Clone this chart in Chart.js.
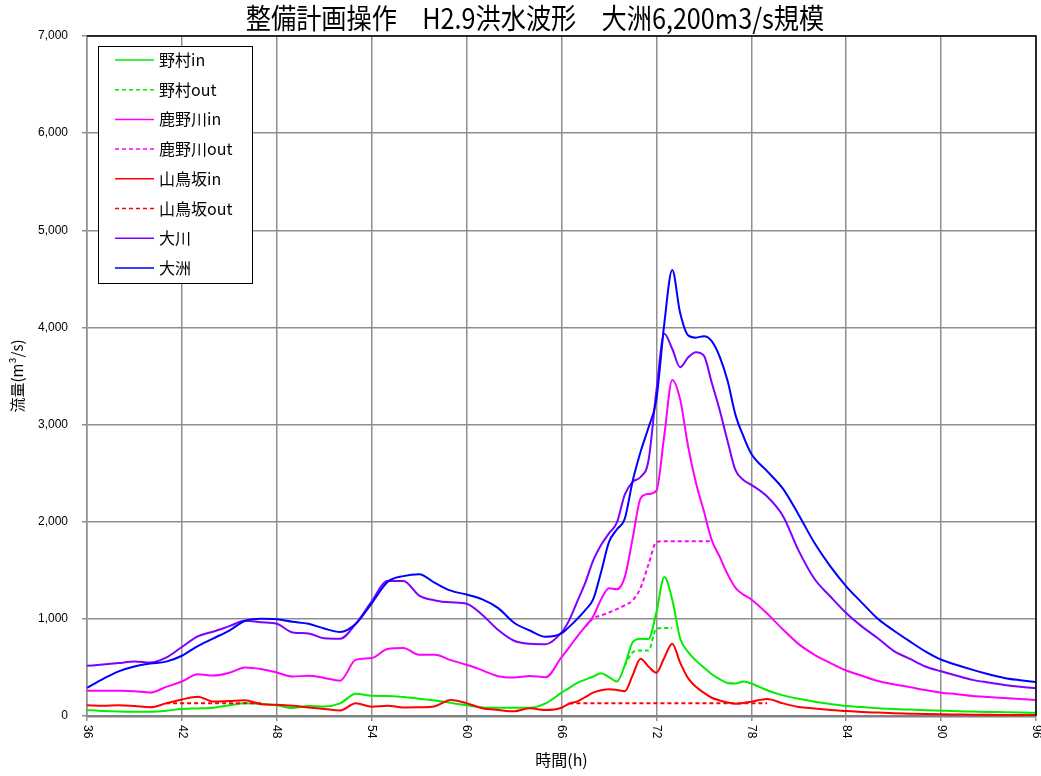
<!DOCTYPE html>
<html lang="ja">
<head>
<meta charset="utf-8">
<title>整備計画操作 H2.9洪水波形 大洲6,200m3/s規模</title>
<script src="https://cdn.jsdelivr.net/npm/chart.js@4.4.1/dist/chart.umd.min.js"></script>
<style>
  html, body { margin: 0; padding: 0; background: #fff; }
  #wrap { width: 1041px; height: 776px; }
</style>
</head>
<body>
<div id="wrap"><canvas id="chart" width="1041" height="776"></canvas></div>
<script>
// 時間軸 (h) - 66〜78hは30分刻み
const hours = [
  36, 37, 38, 39, 40, 41, 42, 43, 44, 45, 46, 47, 48, 49, 50, 51, 52, 53, 54, 55,
  56, 57, 58, 59, 60, 61, 62, 63, 64, 65, 66,
  66.5, 67, 67.5, 68, 68.5, 69, 69.5, 70, 70.5, 71, 71.5, 72, 72.5, 73, 73.5, 74,
  74.5, 75, 75.5, 76, 76.5, 77, 77.5, 78,
  79, 80, 81, 82, 83, 84, 85, 86, 87, 88, 89, 90, 91, 92, 93, 94, 95, 96
];

const nomuraIn = [
  62, 52, 46, 44, 45, 55, 72, 78, 86, 110, 130, 126, 110, 82, 103, 98, 130, 228, 208, 206,
  195, 178, 160, 135, 110, 88, 86, 86, 86, 130, 240,
  290, 340, 375, 405, 440, 400, 354, 520, 760, 795, 792, 1070, 1430, 1200, 800, 660,
  570, 500, 430, 380, 340, 335, 354, 335,
  265, 212, 177, 147, 123, 103, 92, 80, 72, 66, 60, 55, 50, 46, 42, 39, 36, 34
];

const nomuraOut = [
  null, null, null, null, null, null, null, null, null, null, null, null, null, null, null, null, null, null, null, null,
  null, null, null, null, null, null, null, null, null, null, null,
  null, null, null, null, null, null, null, 520, 655, 674, 674, 900, 905, 905, null, null,
  null, null, null, null, null, null, null, null,
  null, null, null, null, null, null, null, null, null, null, null, null, null, null, null, null, null, null
];

const kanogawaIn = [
  261, 261, 260, 255, 241, 300, 355, 430, 416, 445, 500, 484, 447, 406, 415, 392, 364, 580, 596, 690,
  700, 630, 630, 575, 527, 470, 410, 397, 412, 399, 605,
  710, 820, 920, 1025, 1200, 1315, 1305, 1430, 1830, 2240, 2285, 2320, 2890, 3460, 3260, 2780,
  2400, 2110, 1810, 1640, 1460, 1320, 1250, 1200,
  1055, 890, 740, 630, 545, 468, 415, 360, 327, 298, 267, 240, 225, 206, 195, 185, 175, 165
];

const kanogawaOut = [
  null, null, null, null, null, null, null, null, null, null, null, null, null, null, null, null, null, null, null, null,
  null, null, null, null, null, null, null, null, null, null, null,
  null, null, 920, 1005, 1035, 1065, 1100, 1140, 1190, 1320, 1560, 1790, 1800, 1800, 1800, 1800,
  1800, 1800, 1800, null, null, null, null, null,
  null, null, null, null, null, null, null, null, null, null, null, null, null, null, null, null, null, null
];

const sanchosakaIn = [
  110, 105, 110, 102, 90, 130, 170, 198, 148, 155, 162, 122, 115, 105, 88, 73, 57, 130, 96, 106,
  88, 89, 100, 165, 131, 80, 62, 48, 79, 62, 85,
  129, 150, 195, 240, 265, 276, 268, 254, 420, 590, 509, 445, 600, 745, 550, 390,
  300, 240, 188, 160, 140, 126, 135, 148,
  175, 130, 92, 77, 62, 52, 42, 35, 28, 24, 20, 17, 15, 13, 12, 11, 10, 10
];

const sanchosakaOut = [
  null, null, null, null, null, 130, 131, 131, 131, 131, 131, 131, null, null, null, null, null, null, null, null,
  null, null, null, null, null, null, null, null, null, null, null,
  129, 131, 131, 131, 131, 131, 131, 131, 131, 131, 131, 131, 131, 131, 131, 131,
  131, 131, 131, 131, 131, 131, 131, 131,
  131, null, null, null, null, null, null, null, null, null, null, null, null, null, null, null, null, null
];

const ookawa = [
  516, 530, 545, 561, 550, 600, 710, 820, 870, 925, 980, 965, 950, 860, 850, 800, 795, 950, 1180, 1390,
  1390, 1240, 1190, 1170, 1156, 1040, 885, 775, 743, 738, 860,
  990, 1180, 1370, 1600, 1760, 1880, 1990, 2280, 2410, 2460, 2630, 3350, 3935, 3780, 3590, 3690,
  3745, 3710, 3430, 3150, 2830, 2530, 2430, 2380,
  2260, 2060, 1700, 1410, 1230, 1060, 920, 800, 670, 590, 510, 460, 415, 372, 345, 320, 300, 286
];

const oozu = [
  290, 380, 460, 510, 540, 560, 620, 720, 800, 880, 980, 1000, 995, 970, 950, 900, 865, 950, 1160, 1380,
  1440, 1460, 1370, 1290, 1250, 1200, 1110, 960, 880, 815, 850,
  920, 1000, 1090, 1200, 1480, 1790, 1920, 2030, 2420, 2720, 2970, 3260, 4040, 4590, 4150, 3920,
  3895, 3910, 3860, 3700, 3450, 3100, 2880, 2700,
  2520, 2340, 2070, 1780, 1540, 1335, 1165, 1000, 880, 770, 665, 580, 525, 475, 430, 392, 368, 348
];

const yTicks = [0, 1000, 2000, 3000, 4000, 5000, 6000, 7000];
const xTicks = [36, 42, 48, 54, 60, 66, 72, 78, 84, 90, 96];

const series = [
  { label: '野村in', data: nomuraIn, color: '#00ee00', dash: [] },
  { label: '野村out', data: nomuraOut, color: '#00ee00', dash: [4, 3] },
  { label: '鹿野川in', data: kanogawaIn, color: '#ff00ff', dash: [] },
  { label: '鹿野川out', data: kanogawaOut, color: '#ff00ff', dash: [4, 3] },
  { label: '山鳥坂in', data: sanchosakaIn, color: '#ff0000', dash: [] },
  { label: '山鳥坂out', data: sanchosakaOut, color: '#ff0000', dash: [4, 3] },
  { label: '大川', data: ookawa, color: '#7f00ff', dash: [] },
  { label: '大洲', data: oozu, color: '#0000ff', dash: [] }
];

const JP = '"Noto Sans CJK JP", "Noto Sans", sans-serif';
const NUM = '"Liberation Sans", Arial, sans-serif';

// タイトル・x軸目盛・凡例・枠線を描く
const decorPlugin = {
  id: 'decor',
  afterDraw(chart) {
    const { ctx, chartArea: a } = chart;
    const xs = chart.scales.x;

    // 枠線 (上・右)
    ctx.save();
    ctx.strokeStyle = '#000';
    ctx.lineWidth = 1.5;
    ctx.beginPath();
    ctx.moveTo(a.left, a.top);
    ctx.lineTo(a.right, a.top);
    ctx.lineTo(a.right, a.bottom);
    ctx.stroke();
    ctx.restore();

    // タイトル (縦長の書体に寄せて横方向を詰める)
    ctx.save();
    ctx.font = '28px ' + JP;
    ctx.fillStyle = '#000';
    ctx.textAlign = 'center';
    ctx.textBaseline = 'middle';
    ctx.translate(535, 18);
    ctx.scale(0.9, 1);
    ctx.fillText('整備計画操作　H2.9洪水波形　大洲6,200m3/s規模', 0, 0);
    ctx.restore();

    // x軸目盛 (縦書き)
    ctx.save();
    ctx.font = '12px ' + NUM;
    ctx.fillStyle = '#000';
    ctx.textAlign = 'left';
    ctx.textBaseline = 'middle';
    xTicks.forEach(t => {
      const px = xs.getPixelForValue(t);
      ctx.save();
      ctx.translate(px, a.bottom + 9);
      ctx.rotate(Math.PI / 2);
      ctx.fillText(String(t), 0, 0);
      ctx.restore();
    });
    ctx.restore();

    // 凡例
    const bx = 98.5, by = 46.5, bw = 154, bh = 237;
    ctx.save();
    ctx.fillStyle = '#fff';
    ctx.fillRect(bx, by, bw, bh);
    ctx.strokeStyle = '#000';
    ctx.lineWidth = 1;
    ctx.strokeRect(bx, by, bw, bh);
    ctx.font = '16px ' + JP;
    ctx.textBaseline = 'middle';
    ctx.textAlign = 'left';
    chart.data.datasets.forEach((ds, i) => {
      const y = 60 + i * 29.7;
      ctx.strokeStyle = ds.borderColor;
      ctx.lineWidth = 1.5;
      ctx.setLineDash(ds.borderDash);
      ctx.beginPath();
      ctx.moveTo(115, y);
      ctx.lineTo(154, y);
      ctx.stroke();
      ctx.setLineDash([]);
      ctx.fillStyle = '#000';
      ctx.fillText(ds.label, 159, y);
    });
    ctx.restore();
  }
};

new Chart(document.getElementById('chart'), {
  type: 'line',
  data: {
    datasets: series.map((s, i) => ({
      label: s.label,
      data: hours.map((h, j) => ({ x: h, y: s.data[j] })),
      borderColor: s.color,
      backgroundColor: s.color,
      borderDash: s.dash,
      borderWidth: 2,
      pointRadius: 0,
      fill: false,
      cubicInterpolationMode: 'monotone',
      spanGaps: false,
      order: series.length - i
    }))
  },
  options: {
    responsive: false,
    animation: false,
    layout: { padding: { left: 0, right: 5, top: 36, bottom: 0 } },
    plugins: {
      legend: { display: false },
      title: { display: false },
      tooltip: { enabled: false }
    },
    scales: {
      x: {
        type: 'linear',
        min: 36,
        max: 96,
        afterFit: s => { s.height = 60; },
        afterBuildTicks: s => { s.ticks = xTicks.map(v => ({ value: v })); },
        ticks: { display: false },
        grid: { color: '#8f8f8f', lineWidth: 1.5, tickLength: 5 },
        border: { color: '#808080', width: 2.5 },
        title: {
          display: true,
          text: '時間(h)',
          font: { family: JP, size: 16 },
          color: '#000',
          padding: { top: 0, bottom: 6 }
        }
      },
      y: {
        min: 0,
        max: 7000,
        afterFit: s => { s.width = 87; },
        afterBuildTicks: s => { s.ticks = yTicks.map(v => ({ value: v })); },
        ticks: {
          font: { family: NUM, size: 12 },
          color: '#000',
          padding: 14,
          callback: v => v.toLocaleString('en-US')
        },
        grid: { color: '#8f8f8f', lineWidth: 1.5, tickLength: 5 },
        border: { color: '#8f8f8f', width: 1.5 },
        title: {
          display: true,
          text: '流量(m³/s)',
          font: { family: JP, size: 15 },
          color: '#000',
          padding: { top: 8, bottom: 0 }
        }
      }
    }
  },
  plugins: [decorPlugin]
});
</script>
</body>
</html>
